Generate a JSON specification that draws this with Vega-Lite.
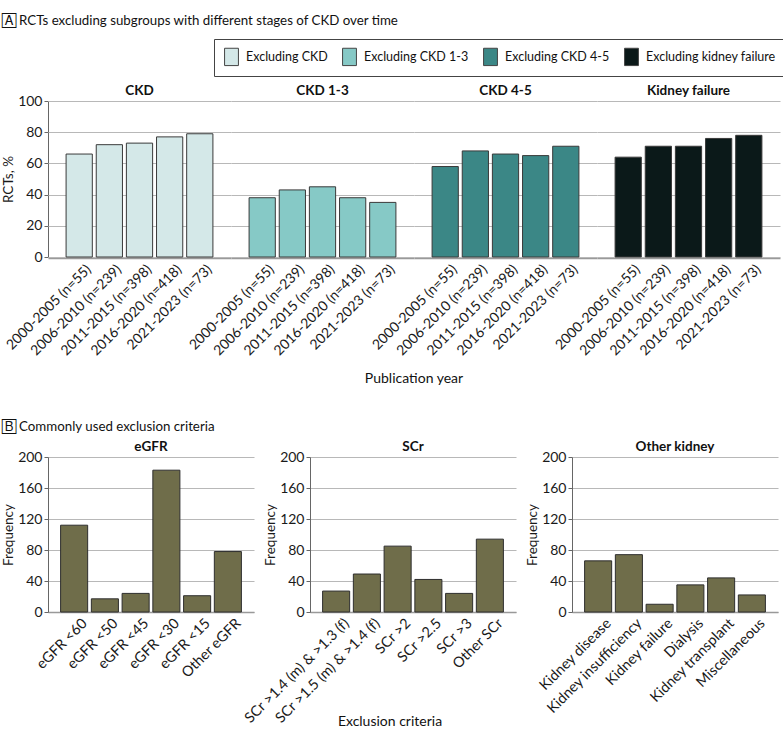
{
  "$schema": "https://vega.github.io/schema/vega-lite/v6.json",
  "background": "white",
  "padding": {"left": 1, "top": 14, "right": 2, "bottom": 0},
  "spacing": 34,
  "resolve": {"legend": {"color": "independent"}},
  "config": {
    "font": "Lato",
    "view": {"stroke": null},
    "axis": {"labelFont": "Lato", "labelFontSize": 14, "titleFont": "Lato", "titleFontSize": 13.5, "titleFontWeight": "normal", "labelColor": "#1a1a1a", "titleColor": "#1a1a1a", "gridColor": "#b8b8b8", "gridWidth": 1.2, "domainColor": "#666", "tickColor": "#666"},
    "header": {"labelFont": "Lato", "labelFontSize": 13.5, "labelFontWeight": "bold", "labelColor": "#111", "titleFont": "Lato", "titleFontSize": 14, "titleFontWeight": "normal", "titleColor": "#111"},
    "title": {"font": "Lato", "fontSize": 13.3, "fontWeight": "normal", "anchor": "start", "color": "#111"}
  },
  "datasets": {
    "rcts": [
      {"stage": "CKD", "exclusion": "Excluding CKD", "period": "2000-2005 (n=55)", "pct": 66},
      {"stage": "CKD", "exclusion": "Excluding CKD", "period": "2006-2010 (n=239)", "pct": 72},
      {"stage": "CKD", "exclusion": "Excluding CKD", "period": "2011-2015 (n=398)", "pct": 73},
      {"stage": "CKD", "exclusion": "Excluding CKD", "period": "2016-2020 (n=418)", "pct": 77},
      {"stage": "CKD", "exclusion": "Excluding CKD", "period": "2021-2023 (n=73)", "pct": 79},
      {"stage": "CKD 1-3", "exclusion": "Excluding CKD 1-3", "period": "2000-2005 (n=55)", "pct": 38},
      {"stage": "CKD 1-3", "exclusion": "Excluding CKD 1-3", "period": "2006-2010 (n=239)", "pct": 43},
      {"stage": "CKD 1-3", "exclusion": "Excluding CKD 1-3", "period": "2011-2015 (n=398)", "pct": 45},
      {"stage": "CKD 1-3", "exclusion": "Excluding CKD 1-3", "period": "2016-2020 (n=418)", "pct": 38},
      {"stage": "CKD 1-3", "exclusion": "Excluding CKD 1-3", "period": "2021-2023 (n=73)", "pct": 35},
      {"stage": "CKD 4-5", "exclusion": "Excluding CKD 4-5", "period": "2000-2005 (n=55)", "pct": 58},
      {"stage": "CKD 4-5", "exclusion": "Excluding CKD 4-5", "period": "2006-2010 (n=239)", "pct": 68},
      {"stage": "CKD 4-5", "exclusion": "Excluding CKD 4-5", "period": "2011-2015 (n=398)", "pct": 66},
      {"stage": "CKD 4-5", "exclusion": "Excluding CKD 4-5", "period": "2016-2020 (n=418)", "pct": 65},
      {"stage": "CKD 4-5", "exclusion": "Excluding CKD 4-5", "period": "2021-2023 (n=73)", "pct": 71},
      {"stage": "Kidney failure", "exclusion": "Excluding kidney failure", "period": "2000-2005 (n=55)", "pct": 64},
      {"stage": "Kidney failure", "exclusion": "Excluding kidney failure", "period": "2006-2010 (n=239)", "pct": 71},
      {"stage": "Kidney failure", "exclusion": "Excluding kidney failure", "period": "2011-2015 (n=398)", "pct": 71},
      {"stage": "Kidney failure", "exclusion": "Excluding kidney failure", "period": "2016-2020 (n=418)", "pct": 76},
      {"stage": "Kidney failure", "exclusion": "Excluding kidney failure", "period": "2021-2023 (n=73)", "pct": 78}
    ],
    "excl": [
      {"category": "eGFR", "criterion": "eGFR <60", "freq": 112},
      {"category": "eGFR", "criterion": "eGFR <50", "freq": 17},
      {"category": "eGFR", "criterion": "eGFR <45", "freq": 24},
      {"category": "eGFR", "criterion": "eGFR <30", "freq": 183},
      {"category": "eGFR", "criterion": "eGFR <15", "freq": 21},
      {"category": "eGFR", "criterion": "Other eGFR", "freq": 78},
      {"category": "SCr", "criterion": "SCr >1.4 (m) & >1.3 (f)", "freq": 27},
      {"category": "SCr", "criterion": "SCr >1.5 (m) & >1.4 (f)", "freq": 49},
      {"category": "SCr", "criterion": "SCr >2", "freq": 85},
      {"category": "SCr", "criterion": "SCr >2.5", "freq": 42},
      {"category": "SCr", "criterion": "SCr >3", "freq": 24},
      {"category": "SCr", "criterion": "Other SCr", "freq": 94},
      {"category": "Other kidney", "criterion": "Kidney disease", "freq": 66},
      {"category": "Other kidney", "criterion": "Kidney insufficiency", "freq": 74},
      {"category": "Other kidney", "criterion": "Kidney failure", "freq": 10},
      {"category": "Other kidney", "criterion": "Dialysis", "freq": 35},
      {"category": "Other kidney", "criterion": "Kidney transplant", "freq": 44},
      {"category": "Other kidney", "criterion": "Miscellaneous", "freq": 22}
    ]
  },
  "vconcat": [
    {
      "title": {"text": "🄰 RCTs excluding subgroups with different stages of CKD over time", "offset": 11},
      "data": {"name": "rcts"},
      "spacing": 0,
      "facet": {
        "column": {
          "field": "stage", "type": "nominal",
          "sort": ["CKD", "CKD 1-3", "CKD 4-5", "Kidney failure"],
          "header": {"title": "Publication year", "titleOrient": "bottom", "labelOrient": "top", "labelPadding": 4, "titlePadding": 4}
        }
      },
      "spec": {
        "width": 183,
        "height": 156,
        "mark": {"type": "bar", "stroke": "#3a3a3a", "strokeWidth": 1},
        "encoding": {
          "x": {
            "field": "period", "type": "nominal", "sort": null,
            "scale": {"paddingInner": 0.13, "paddingOuter": 0.6},
            "axis": {"title": null, "labelAngle": -45, "ticks": false, "domainColor": "#999", "domainWidth": 1.5, "labelPadding": 4, "labelOffset": 5, "labelFontSize": 14}
          },
          "y": {
            "field": "pct", "type": "quantitative",
            "scale": {"domain": [0, 100]},
            "axis": {"title": "RCTs, %", "values": [0, 20, 40, 60, 80, 100], "tickSize": 4, "titlePadding": 2}
          },
          "color": {
            "field": "exclusion", "type": "nominal",
            "sort": ["Excluding CKD", "Excluding CKD 1-3", "Excluding CKD 4-5", "Excluding kidney failure"],
            "scale": {"domain": ["Excluding CKD", "Excluding CKD 1-3", "Excluding CKD 4-5", "Excluding kidney failure"], "range": ["#d4e8e8", "#86c9c6", "#3b8786", "#0b1919"]},
            "legend": {
              "title": null, "orient": "none", "legendX": 166, "legendY": -62, "direction": "horizontal",
              "strokeColor": "#444", "padding": 8,
              "labelFont": "Lato", "labelFontSize": 12.5, "labelColor": "#111",
              "symbolType": "M-0.8,-1H0.8V1H-0.8Z", "symbolSize": 300,
              "symbolStrokeColor": "#444", "symbolStrokeWidth": 1, "symbolOpacity": 1,
              "columnPadding": 12, "labelOffset": 5
            }
          }
        }
      }
    },
    {
      "title": {"text": "🄱 Commonly used exclusion criteria", "offset": 6},
      "data": {"name": "excl"},
      "spacing": 56,
      "bounds": "flush",
      "facet": {
        "column": {
          "field": "category", "type": "nominal",
          "sort": ["eGFR", "SCr", "Other kidney"],
          "header": {"title": "Exclusion criteria", "titleOrient": "bottom", "labelOrient": "top", "labelPadding": 4, "titlePadding": 93}
        }
      },
      "resolve": {"scale": {"x": "independent"}, "axis": {"y": "independent"}},
      "spec": {
        "width": 206,
        "height": 155,
        "mark": {"type": "bar", "fill": "#6f6d4a", "stroke": "#2e2e2e", "strokeWidth": 1},
        "encoding": {
          "x": {
            "field": "criterion", "type": "nominal", "sort": null,
            "scale": {"paddingInner": 0.12, "paddingOuter": 0.41},
            "axis": {"title": null, "labelAngle": -45, "ticks": false, "domainColor": "#999", "domainWidth": 1.5, "labelPadding": 4, "labelOffset": 6, "labelFontSize": 14.5}
          },
          "y": {
            "field": "freq", "type": "quantitative",
            "scale": {"domain": [0, 200]},
            "axis": {"title": "Frequency", "values": [0, 40, 80, 120, 160, 200], "tickSize": 4, "titlePadding": 2}
          }
        }
      }
    }
  ]
}
